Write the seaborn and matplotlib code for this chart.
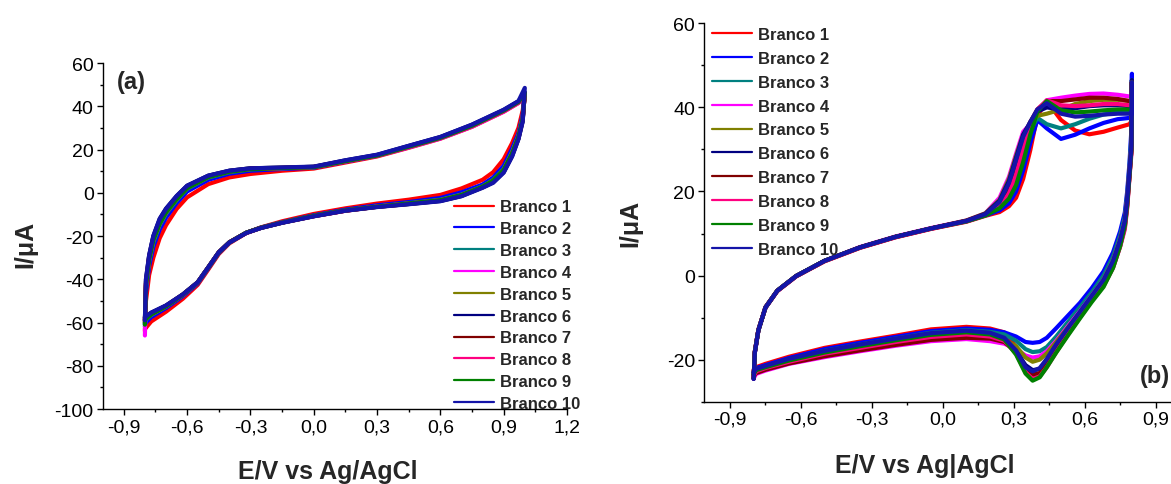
import numpy as np
import pandas as pd
import seaborn as sns
import matplotlib
matplotlib.use("Agg")
import matplotlib.pyplot as plt
from matplotlib.lines import Line2D
from matplotlib.ticker import MultipleLocator, FuncFormatter

# series names and colours (Origin-like palette)
labels = ["Branco %d" % i for i in range(1, 11)]
colors = ["#FF0000", "#0000FF", "#008080", "#FF00FF", "#808000",
          "#000080", "#800000", "#FF0080", "#008000", "#1414A8"]

# ---- panel (a): forward scan (-0.8 -> 1.0) ----
a_E_up = [-0.80, -0.795, -0.78, -0.76, -0.73, -0.70, -0.65, -0.60, -0.50, -0.40, -0.30,
          -0.15, 0.00, 0.15, 0.30, 0.45, 0.60, 0.75, 0.90, 0.97, 1.00]
a_I_up = [
    [-64, -50, -38, -30, -21, -15, -7.5, -2.1, 4.0, 7.1, 8.7, 10.2, 11.2, 14.0, 16.8, 20.8, 25.0, 30.5, 37.5, 41.5, 45.0],
    [-62, -46, -34, -25, -17, -11.5, -4.8, 0.6, 6.0, 8.8, 10.2, 11.0, 11.6, 14.4, 17.1, 21.1, 25.3, 30.8, 37.8, 41.8, 45.5],
    [-61, -44, -32, -23, -15, -9.8, -3.5, 1.8, 7.0, 9.5, 10.8, 11.3, 11.8, 14.6, 17.2, 21.2, 25.3, 30.9, 37.8, 41.9, 45.8],
    [-66, -43, -31, -22, -14.5, -9.3, -3.0, 2.2, 7.3, 9.8, 11.0, 11.4, 11.8, 14.5, 17.1, 21.0, 25.1, 30.6, 37.5, 41.6, 45.6],
    [-59, -41, -29.5, -20.5, -13, -8.0, -2.0, 3.0, 7.8, 10.1, 11.3, 11.6, 12.0, 14.8, 17.4, 21.5, 25.6, 31.2, 38.1, 42.1, 46.2],
    [-59, -40, -29, -20, -12, -7.3, -1.5, 3.3, 7.9, 10.2, 11.3, 11.6, 12.0, 15.0, 17.5, 21.7, 25.8, 31.5, 38.3, 42.3, 46.5],
    [-60, -42, -30, -21, -13.5, -8.5, -2.5, 2.6, 7.5, 9.9, 11.1, 11.5, 11.9, 14.7, 17.2, 21.3, 25.4, 31.0, 37.9, 42.0, 45.9],
    [-60, -42, -30.5, -21.5, -14, -8.8, -2.7, 2.4, 7.4, 9.9, 11.0, 11.4, 11.9, 14.6, 17.1, 21.2, 25.3, 30.8, 37.7, 41.8, 45.7],
    [-61, -43, -31, -22, -14.5, -9.2, -3.1, 2.1, 7.2, 9.7, 10.9, 11.4, 11.8, 14.6, 17.2, 21.3, 25.4, 31.0, 38.0, 42.0, 46.0],
    [-59, -40, -29, -20, -12.2, -7.5, -1.6, 3.2, 7.9, 10.2, 11.3, 11.7, 12.1, 15.0, 17.6, 21.7, 25.8, 31.5, 38.4, 42.4, 48.5],
]
# ---- panel (a): reverse scan (1.0 -> -0.8) ----
a_E_dn = [1.00, 0.99, 0.97, 0.94, 0.90, 0.85, 0.80, 0.70, 0.60, 0.45, 0.30, 0.15, 0.00,
          -0.15, -0.25, -0.32, -0.40, -0.45, -0.50, -0.55, -0.62, -0.70, -0.77, -0.80]
a_I_dn = [
    [45.0, 38.0, 30.0, 23.0, 15.5, 9.5, 6.0, 2.0, -1.0, -3.2, -5.0, -7.2, -9.8, -13.2, -16.0, -18.6, -23.4, -28.3, -35.5, -42.6, -49.0, -55.0, -59.5, -63.0],
    [45.5, 36.0, 27.5, 20.5, 12.5, 7.0, 3.8, 0.2, -2.4, -4.3, -5.8, -7.8, -10.4, -13.6, -16.1, -18.5, -23.1, -27.9, -35.0, -42.0, -47.8, -53.3, -57.5, -60.5],
    [45.8, 35.0, 26.5, 19.0, 11.0, 6.0, 3.0, -0.8, -3.2, -4.8, -6.3, -8.1, -10.6, -13.7, -16.1, -18.5, -23.0, -27.7, -34.7, -41.6, -47.3, -52.7, -56.5, -59.0],
    [45.6, 34.5, 26.0, 18.5, 10.5, 5.6, 2.7, -1.0, -3.4, -5.0, -6.4, -8.3, -10.8, -13.8, -16.2, -18.6, -23.0, -27.6, -34.6, -41.5, -47.2, -52.5, -56.3, -58.5],
    [46.2, 33.5, 25.0, 17.5, 9.8, 5.0, 2.5, -1.4, -3.7, -5.2, -6.5, -8.2, -10.8, -13.8, -16.2, -18.5, -22.9, -27.5, -34.5, -41.4, -47.0, -52.2, -55.6, -57.6],
    [46.5, 33.0, 25.0, 17.0, 9.5, 4.8, 2.5, -1.5, -3.8, -5.2, -6.5, -8.2, -10.8, -13.8, -16.2, -18.5, -22.9, -27.5, -34.5, -41.4, -47.0, -52.2, -55.5, -57.6],
    [45.9, 34.0, 25.5, 18.0, 10.2, 5.3, 2.6, -1.2, -3.6, -5.1, -6.5, -8.3, -10.8, -13.8, -16.2, -18.5, -22.9, -27.6, -34.6, -41.5, -47.1, -52.4, -55.9, -58.0],
    [45.7, 34.2, 25.8, 18.2, 10.4, 5.5, 2.7, -1.1, -3.5, -5.0, -6.4, -8.3, -10.8, -13.8, -16.2, -18.6, -23.0, -27.6, -34.6, -41.5, -47.2, -52.5, -56.2, -58.5],
    [46.0, 34.3, 26.0, 18.4, 10.6, 5.7, 2.8, -1.0, -3.4, -4.9, -6.4, -8.2, -10.7, -13.8, -16.2, -18.5, -23.0, -27.6, -34.6, -41.5, -47.2, -52.6, -56.3, -58.8],
    [48.5, 33.0, 24.8, 16.8, 9.3, 4.6, 2.3, -1.6, -3.9, -5.3, -6.6, -8.3, -10.9, -13.9, -16.3, -18.6, -23.0, -27.5, -34.5, -41.4, -47.0, -52.1, -55.4, -57.5],
]

# ---- panel (b): forward scan (-0.8 -> 0.8) ----
b_E_up = [-0.80, -0.795, -0.78, -0.75, -0.70, -0.62, -0.50, -0.35, -0.20, -0.05, 0.10, 0.18, 0.24,
          0.28, 0.31, 0.34, 0.37, 0.40, 0.44, 0.50, 0.56, 0.62, 0.68, 0.74, 0.79, 0.80]
b_I_up = [
    [-24.0, -18.0, -12.9, -7.6, -3.7, -0.2, 3.4, 6.6, 9.1, 11.1, 12.8, 14.2, 15.1, 16.5, 18.5, 23.0, 29.8, 38.0, 41.5, 37.0, 34.5, 33.6, 34.2, 35.2, 36.0, 37.0],
    [-24.5, -18.2, -13.0, -7.6, -3.6, -0.1, 3.5, 6.7, 9.2, 11.2, 12.9, 14.3, 15.5, 17.2, 20.0, 25.0, 31.5, 37.0, 35.0, 32.5, 33.5, 35.0, 36.3, 37.2, 37.5, 38.0],
    [-24.3, -18.1, -13.0, -7.5, -3.6, -0.1, 3.5, 6.7, 9.2, 11.2, 13.0, 14.5, 16.5, 19.5, 24.0, 30.0, 34.5, 37.5, 36.0, 35.0, 36.0, 37.3, 38.3, 38.8, 39.0, 39.0],
    [-24.6, -18.4, -13.1, -7.7, -3.7, -0.2, 3.5, 6.8, 9.3, 11.3, 13.1, 14.8, 18.5, 23.5, 29.0, 34.2, 36.0, 38.8, 41.7, 42.3, 42.8, 43.2, 43.3, 43.0, 42.6, 42.5],
    [-24.4, -18.3, -13.0, -7.6, -3.6, -0.1, 3.5, 6.7, 9.2, 11.2, 13.1, 14.8, 18.0, 23.0, 28.5, 33.5, 36.0, 38.0, 38.5, 39.5, 40.8, 41.5, 41.8, 41.8, 41.5, 41.5],
    [-24.5, -18.3, -13.0, -7.6, -3.6, -0.1, 3.5, 6.7, 9.2, 11.2, 13.0, 14.7, 17.8, 22.5, 28.0, 33.5, 36.5, 39.0, 40.0, 39.5, 39.8, 40.3, 40.5, 40.5, 40.3, 40.0],
    [-24.4, -18.2, -13.0, -7.6, -3.6, -0.1, 3.5, 6.7, 9.2, 11.2, 13.0, 14.6, 17.3, 21.5, 27.0, 32.5, 36.5, 39.5, 41.5, 41.5, 41.9, 42.3, 42.3, 42.0, 41.5, 41.0],
    [-24.3, -18.1, -12.9, -7.5, -3.6, -0.1, 3.4, 6.6, 9.1, 11.1, 12.9, 14.4, 16.5, 19.5, 24.0, 30.0, 35.5, 39.5, 41.7, 40.5, 40.3, 40.5, 40.8, 40.8, 40.5, 40.5],
    [-24.5, -18.2, -13.0, -7.6, -3.6, -0.1, 3.5, 6.7, 9.2, 11.2, 12.9, 14.3, 16.0, 18.3, 21.5, 27.0, 33.5, 39.0, 41.5, 39.3, 38.8, 39.0, 39.3, 39.5, 39.5, 39.5],
    [-24.6, -18.3, -13.0, -7.6, -3.6, -0.1, 3.5, 6.7, 9.2, 11.2, 13.0, 14.6, 17.5, 22.0, 27.5, 33.0, 36.5, 39.5, 41.0, 38.5, 37.8, 38.0, 38.3, 38.5, 38.5, 38.5],
]
# ---- panel (b): reverse scan (0.8 -> -0.8) ----
b_E_dn = [0.80, 0.798, 0.79, 0.78, 0.77, 0.75, 0.72, 0.68, 0.63, 0.58, 0.53, 0.48, 0.44, 0.41,
          0.38, 0.35, 0.31, 0.26, 0.20, 0.10, -0.05, -0.20, -0.35, -0.50, -0.65, -0.75, -0.79, -0.80]
b_I_dn = [
    [46.0, 30.0, 24.0, 17.0, 12.0, 7.5, 2.4, -2.0, -5.5, -9.5, -13.5, -17.5, -21.0, -23.5, -24.5, -22.5, -17.0, -13.5, -12.6, -12.2, -12.8, -14.3, -15.7, -17.2, -19.3, -21.0, -21.8, -22.5],
    [48.0, 35.0, 27.0, 20.0, 15.0, 10.5, 5.5, 1.0, -3.0, -6.5, -9.5, -12.5, -14.8, -15.8, -16.0, -15.8, -14.5, -13.5, -12.9, -12.6, -13.2, -14.6, -16.0, -17.5, -19.6, -21.3, -22.0, -23.0],
    [46.5, 33.0, 26.0, 19.0, 14.0, 9.5, 4.5, 0.0, -4.0, -7.5, -11.0, -14.5, -17.0, -18.0, -18.2, -17.5, -15.5, -14.0, -13.4, -13.0, -13.6, -15.0, -16.4, -17.9, -20.0, -21.6, -22.3, -23.0],
    [46.0, 31.0, 25.0, 18.0, 13.0, 8.5, 3.5, -1.0, -4.8, -8.5, -12.0, -15.5, -18.0, -19.2, -19.5, -19.0, -17.5, -16.2, -15.6, -15.1, -15.6, -16.7, -18.0, -19.4, -21.0, -22.6, -23.4, -24.5],
    [46.0, 31.0, 25.0, 18.0, 13.0, 8.5, 3.5, -1.0, -5.0, -8.8, -12.3, -15.8, -18.5, -20.0, -20.5, -19.5, -16.8, -15.3, -14.8, -14.5, -15.0, -16.2, -17.5, -18.9, -20.6, -22.2, -23.0, -24.0],
    [46.5, 30.0, 24.5, 17.5, 12.5, 8.0, 3.0, -1.5, -5.3, -9.2, -13.0, -17.0, -20.5, -22.2, -22.5, -21.3, -18.0, -15.5, -14.6, -14.2, -14.7, -15.9, -17.2, -18.6, -20.4, -22.0, -22.8, -24.0],
    [46.0, 30.0, 24.0, 16.5, 11.5, 7.0, 2.0, -2.3, -5.8, -9.8, -13.8, -17.8, -21.3, -23.2, -23.5, -22.0, -18.2, -15.8, -15.0, -14.8, -15.3, -16.5, -17.8, -19.2, -20.9, -22.4, -23.2, -24.0],
    [46.0, 29.0, 23.5, 16.0, 11.0, 6.8, 1.8, -2.5, -6.0, -10.0, -14.0, -18.2, -21.8, -24.0, -24.6, -23.0, -18.5, -15.5, -14.5, -14.0, -14.6, -15.8, -17.2, -18.6, -20.5, -22.0, -22.8, -24.0],
    [46.0, 30.0, 24.0, 16.8, 11.8, 7.0, 1.8, -2.7, -6.3, -10.2, -14.2, -18.3, -21.8, -24.2, -25.0, -23.3, -18.8, -15.2, -14.0, -13.5, -14.1, -15.4, -16.8, -18.3, -20.2, -21.8, -22.5, -23.5],
    [46.0, 31.0, 25.0, 18.0, 13.0, 8.5, 3.5, -1.0, -4.8, -8.6, -12.4, -16.3, -19.8, -22.0, -22.8, -21.8, -17.8, -14.8, -13.6, -13.1, -13.7, -15.0, -16.4, -17.9, -19.8, -21.5, -22.2, -23.0],
]


def build_frame(E_up, I_up, E_dn, I_dn):
    rows = []
    for name, up, dn in zip(labels, I_up, I_dn):
        rows.append(pd.DataFrame({"E": E_up + E_dn, "I": up + dn, "serie": name}))
    return pd.concat(rows, ignore_index=True)


df_a = build_frame(a_E_up, a_I_up, a_E_dn, a_I_dn)
df_b = build_frame(b_E_up, b_I_up, b_E_dn, b_I_dn)

sns.set_style("ticks")
plt.rcParams["font.family"] = ["Liberation Sans", "DejaVu Sans"]
plt.rcParams["axes.unicode_minus"] = False

fig = plt.figure(figsize=(11.71, 4.85), dpi=100)
ax_a = fig.add_axes([0.0877, 0.1546, 0.3965, 0.7134])
ax_b = fig.add_axes([0.6012, 0.1697, 0.4058, 0.7802])

palette = dict(zip(labels, colors))
comma = FuncFormatter(lambda v, p: f"{round(v, 1) + 0.0:.1f}".replace(".", ","))


def style_axes(ax, xlabel, xlim, ylim, yticks, xticks):
    sns.despine(ax=ax)
    ax.set_xlim(*xlim)
    ax.set_ylim(*ylim)
    ax.set_xticks(xticks)
    ax.set_yticks(yticks)
    ax.xaxis.set_minor_locator(MultipleLocator(0.15))
    ax.yaxis.set_minor_locator(MultipleLocator(10))
    ax.xaxis.set_major_formatter(comma)
    for sp in ax.spines.values():
        sp.set_linewidth(1.0)
        sp.set_color("black")
    ax.tick_params(which="major", direction="out", length=4.5, width=1.0,
                   labelsize=14, colors="black", pad=2)
    ax.tick_params(which="minor", direction="out", length=2.5, width=1.0, colors="black")
    ax.set_xlabel(xlabel, fontsize=18, fontweight="bold", va="top")
    ax.set_ylabel("I/\u03bcA", fontsize=18, fontweight="bold")


# panel (a)
sns.lineplot(data=df_a, x="E", y="I", hue="serie", palette=palette, sort=False,
             estimator=None, lw=3.0, legend=False, ax=ax_a)
style_axes(ax_a, "E/V vs Ag/AgCl", (-1.0, 1.2), (-100, 60),
           np.arange(-100, 61, 20), np.round(np.arange(-0.9, 1.21, 0.3), 1))
ax_a.xaxis.set_label_coords(0.485, -0.145)
ax_a.yaxis.set_label_coords(-0.14, 0.48)
ax_a.text(-0.935, 51.5, "(a)", fontsize=17, fontweight="bold", va="center", ha="left")

# panel (b)
sns.lineplot(data=df_b, x="E", y="I", hue="serie", palette=palette, sort=False,
             estimator=None, lw=3.0, legend=False, ax=ax_b)
style_axes(ax_b, "E/V vs Ag|AgCl", (-1.01, 1.0), (-30, 60),
           np.arange(-20, 61, 20), np.round(np.arange(-0.9, 0.91, 0.3), 1))
ax_b.xaxis.set_label_coords(0.465, -0.135)
ax_b.yaxis.set_label_coords(-0.13, 0.475)
ax_b.text(0.835, -23.7, "(b)", fontsize=17, fontweight="bold", va="center", ha="left")

handles = [Line2D([], [], color=c, lw=1.6) for c in colors]
ax_a.legend(handles, labels, loc="upper left", bbox_to_anchor=(0.738, 0.63),
            frameon=False, borderpad=0, handlelength=2.4, handletextpad=0.36,
            labelspacing=0.41, prop={"weight": "bold", "size": 12})
ax_b.legend(handles, labels, loc="upper left", bbox_to_anchor=(-0.001, 1.012),
            frameon=False, borderpad=0, handlelength=2.4, handletextpad=0.36,
            labelspacing=0.53, prop={"weight": "bold", "size": 12})

fig.savefig("out.png", dpi=100)
